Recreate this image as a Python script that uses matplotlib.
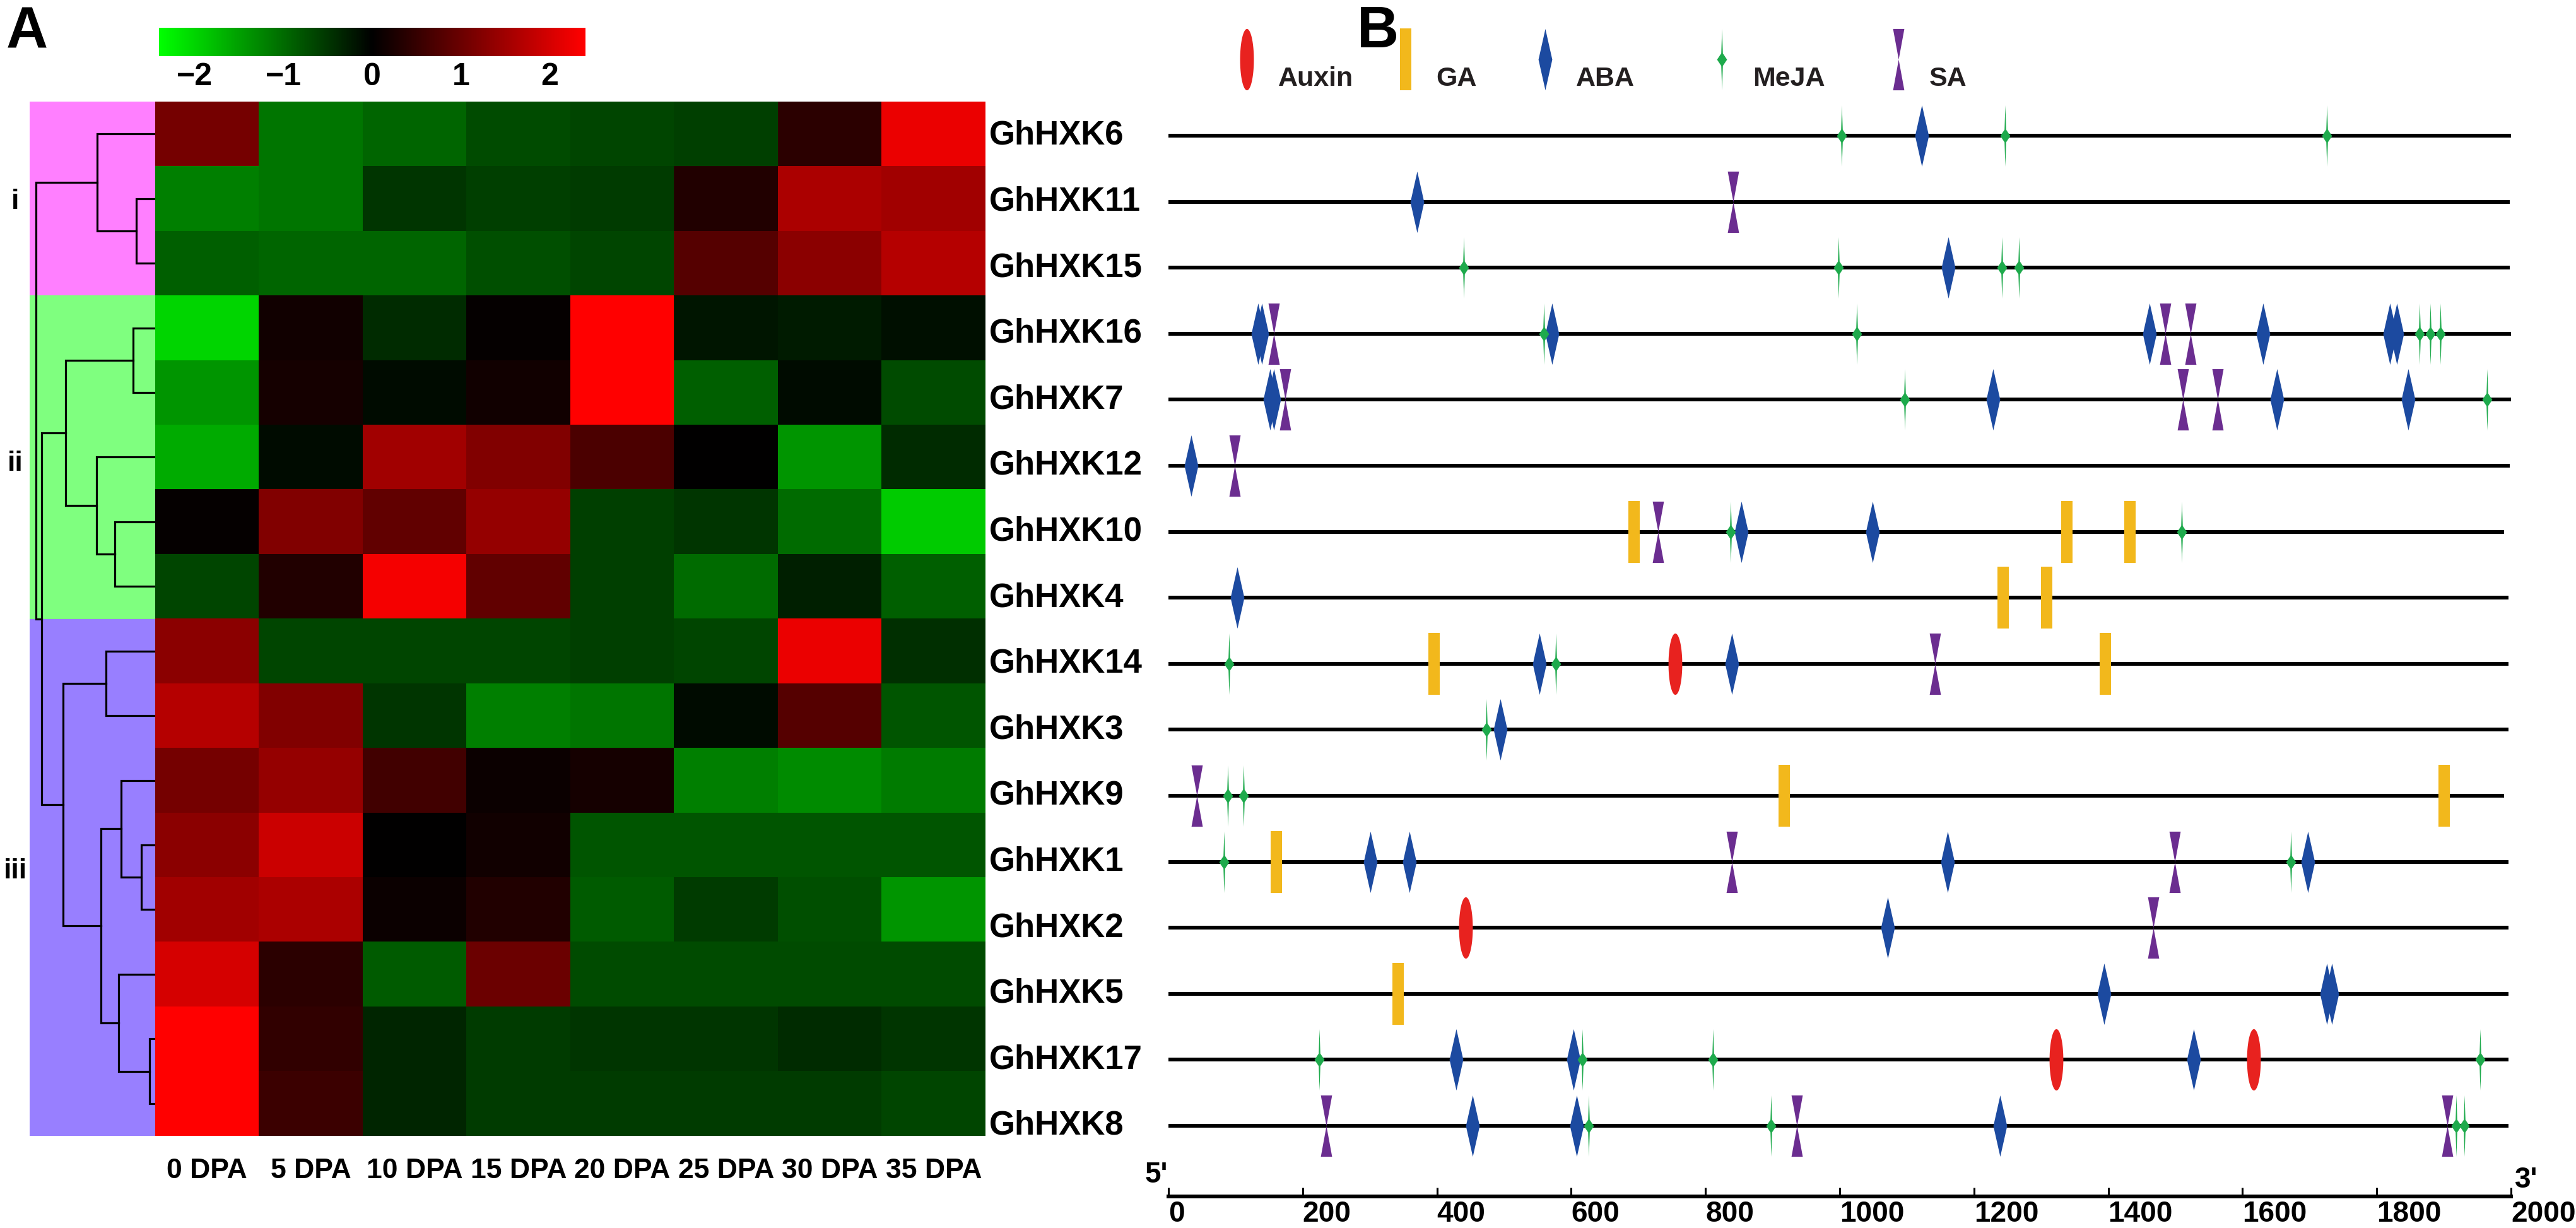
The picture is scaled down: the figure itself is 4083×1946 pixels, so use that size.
import numpy as np
import matplotlib
matplotlib.use('Agg')
import matplotlib.pyplot as plt
import matplotlib.transforms as mtransforms
from matplotlib.colors import LinearSegmentedColormap
from matplotlib.path import Path

# ---- data -------------------------------------------------------------
genes = ['GhHXK6', 'GhHXK11', 'GhHXK15', 'GhHXK16', 'GhHXK7', 'GhHXK12',
         'GhHXK10', 'GhHXK4', 'GhHXK14', 'GhHXK3', 'GhHXK9', 'GhHXK1',
         'GhHXK2', 'GhHXK5', 'GhHXK17', 'GhHXK8']
days = ['0 DPA', '5 DPA', '10 DPA', '15 DPA', '20 DPA', '25 DPA', '30 DPA', '35 DPA']

# z-score of expression, one row per gene
expr = np.array([
    [1.1, -1.1, -0.95, -0.7, -0.65, -0.6, 0.4, 2.2],
    [-1.2, -1.1, -0.5, -0.6, -0.55, 0.3, 1.6, 1.5],
    [-0.9, -0.95, -0.95, -0.75, -0.65, 0.8, 1.3, 1.7],
    [-2.0, 0.15, -0.4, 0.05, 2.4, -0.2, -0.25, -0.15],
    [-1.4, 0.2, -0.1, 0.15, 2.4, -0.9, -0.1, -0.7],
    [-1.6, -0.1, 1.5, 1.2, 0.7, 0.0, -1.4, -0.4],
    [0.05, 1.2, 0.9, 1.4, -0.6, -0.5, -1.0, -1.9],
    [-0.65, 0.3, 2.3, 0.9, -0.6, -1.0, -0.3, -0.9],
    [1.3, -0.65, -0.65, -0.65, -0.6, -0.65, 2.2, -0.45],
    [1.7, 1.2, -0.5, -1.2, -1.1, -0.1, 0.8, -0.8],
    [1.1, 1.4, 0.6, 0.1, 0.2, -1.2, -1.3, -1.15],
    [1.3, 1.9, 0.0, 0.15, -0.8, -0.8, -0.8, -0.8],
    [1.5, 1.6, 0.1, 0.3, -0.85, -0.55, -0.75, -1.4],
    [2.0, 0.4, -0.85, 1.0, -0.7, -0.7, -0.7, -0.7],
    [2.4, 0.45, -0.35, -0.55, -0.5, -0.5, -0.4, -0.5],
    [2.4, 0.55, -0.35, -0.55, -0.55, -0.55, -0.55, -0.65],
])

cluster_names = ['i', 'ii', 'iii']
cluster_rows = [(0, 2), (3, 7), (8, 15)]

# dendrogram merges (node a, node b, height); leaves 0-15, new nodes from 16
merges = [(1, 2, 30), (0, 16, 92), (3, 4, 35), (6, 7, 64), (5, 19, 93),
          (18, 20, 143), (8, 9, 78), (11, 12, 22), (10, 23, 54), (14, 15, 9),
          (13, 25, 58), (24, 26, 86), (22, 27, 147), (21, 28, 181), (17, 29, 190)]

# promoter cis-element positions (bp), one list per gene, same order as genes
auxin_pos = [[], [], [], [], [], [], [], [], [755], [], [], [], [443], [], [1322, 1617], []]
ga_pos = [[], [], [], [], [], [], [694, 1338, 1432], [1243, 1308], [396, 1396], [],
          [917, 1900], [161], [], [342], [], []]
aba_pos = [[1122], [370], [1162], [133, 139, 571, 1461, 1631, 1820, 1830],
           [151, 157, 1228, 1651, 1847], [34], [853, 1049], [102], [553, 839], [494],
           [], [301, 359, 1161, 1697], [1071], [1394, 1726, 1733], [429, 603, 1527],
           [453, 608, 1239]]
meja_pos = [[1003, 1246, 1726], [], [440, 998, 1242, 1267], [559, 1025, 1864, 1880, 1895],
            [1097, 1964], [], [837, 1509], [], [90, 577], [474], [88, 112], [83, 1672],
            [], [], [225, 617, 811, 1954], [626, 898, 1918, 1930]]
sa_pos = [[], [841], [], [157, 1485, 1523], [174, 1511, 1563], [99], [729], [], [1142],
          [], [42], [839, 1499], [1467], [], [], [235, 936, 1905]]
gene_len = [2000, 1998, 1998, 2000, 2000, 1998, 1990, 1996, 1996, 1996, 1990, 1996,
            1996, 1996, 1996, 1996]

hormones = ['Auxin', 'GA', 'ABA', 'MeJA', 'SA']

# ---- figure -----------------------------------------------------------
plt.rcParams['font.family'] = ['Liberation Sans', 'DejaVu Sans']
plt.rcParams['font.weight'] = 'bold'

W, H = 4083, 1946
fig = plt.figure(figsize=(W / 100, H / 100), dpi=100)
# pixel coordinates, origin top-left
px = mtransforms.Affine2D().scale(1.0 / W, -1.0 / H).translate(0, 1) + fig.transFigure


def add_ax(x0, y0, x1, y1):
    return fig.add_axes([x0 / W, 1 - y1 / H, (x1 - x0) / W, (y1 - y0) / H])


# heatmap
cmap = LinearSegmentedColormap.from_list('gkr', ['#00ff00', '#000000', '#ff0000'])
ax_hm = add_ax(246, 161, 1562, 1800)
im = ax_hm.imshow(expr, cmap=cmap, vmin=-2.4, vmax=2.4, aspect='auto',
                  interpolation='nearest')
ax_hm.set_xticks(range(len(days)))
ax_hm.set_xticklabels(days)
ax_hm.set_yticks([])
ax_hm.tick_params(axis='x', length=0, labelsize=32, pad=25)
for s in ax_hm.spines.values():
    s.set_visible(False)

# dendrogram
ax_d = add_ax(47, 161, 246, 1800)
nodes = {i: (0.0, float(i)) for i in range(len(genes))}
for k, (a, b, h) in enumerate(merges):
    ha_, ya = nodes[a]
    hb_, yb = nodes[b]
    ax_d.plot([ha_, h, h, hb_], [ya, ya, yb, yb], color='k', lw=2.3,
              solid_joinstyle='miter')
    nodes[len(genes) + k] = (h, (ya + yb) / 2)
span_cols = ['#ff00ff', '#00ff00', '#3300ff']
for (r0, r1), c in zip(cluster_rows, span_cols):
    ax_d.axhspan(r0 - 0.5, r1 + 0.5, color=c, alpha=0.5, lw=0)
ax_d.set_xlim(200, 0)
ax_d.set_ylim(len(genes) - 0.5, -0.5)
ax_d.axis('off')

lab_tr = mtransforms.blended_transform_factory(px, ax_d.transData)
for name, ypos in zip(cluster_names, [1.05, 5.1, 11.4]):
    ax_d.text(24, ypos, name, transform=lab_tr, ha='center', va='center', fontsize=32)

# colour bar
cax = add_ax(252, 44, 928, 89)
cb = fig.colorbar(im, cax=cax, orientation='horizontal', ticks=[-2, -1, 0, 1, 2])
cb.outline.set_visible(False)
cax.tick_params(length=0, labelsize=36, pad=7)

# promoter panel
def row_of(y):
    return (y - 215) / 104.6


ax_b = add_ax(1852, 20, 3980, 1896)
ax_b.set_xlim(0, 2000)
ax_b.set_ylim(row_of(1896), row_of(20))
rows = np.arange(len(genes))
ax_b.hlines(rows, 0, gene_len, color='k', lw=4.3, zorder=1)

t = np.linspace(0, 2 * np.pi, 80)
shapes = {
    'Auxin': Path(np.column_stack([11 * np.cos(t), 49 * np.sin(t)])),
    'GA': Path([(-9, 49), (9, 49), (9, -49), (-9, -49), (-9, 49)], closed=True),
    'ABA': Path([(0, 49), (11, 0), (0, -49), (-11, 0), (0, 49)], closed=True),
    'MeJA': Path([(0, 49), (1.3, 10), (8, 0), (1.3, -10), (0, -49), (-1.3, -10),
                  (-8, 0), (-1.3, 10), (0, 49)], closed=True),
    'SA': Path([(-9, 49), (9, 49), (0, 0), (9, -49), (-9, -49), (0, 0), (-9, 49)],
               closed=True),
}
colors = {'Auxin': '#e8221f', 'GA': '#f2b81c', 'ABA': '#1c4aa0',
          'MeJA': '#1eaa4c', 'SA': '#6b2d90'}
positions = {'Auxin': auxin_pos, 'GA': ga_pos, 'ABA': aba_pos,
             'MeJA': meja_pos, 'SA': sa_pos}

for hname in hormones:
    xs, ys = [], []
    for r, plist in enumerate(positions[hname]):
        xs += plist
        ys += [r] * len(plist)
    ax_b.plot(xs, ys, ls='none', marker=shapes[hname], ms=70,
              mfc=colors[hname], mec='none', mew=0, zorder=3)

# legend row
leg_x = [117, 353, 561, 824, 1087]
for hname, lx in zip(hormones, leg_x):
    ax_b.plot([lx], [row_of(94)], ls='none', marker=shapes[hname], ms=70,
              mfc=colors[hname], mec='none', mew=0)
    ax_b.text(lx + 46, row_of(136), hname, ha='left', va='baseline', fontsize=31,
              color='#231f20')

ax_b.set_yticks([])
ax_b.set_xticks(range(0, 2001, 200))
ax_b.tick_params(axis='x', direction='in', length=10, width=2.2, labelsize=33, pad=4)
for lab in ax_b.get_xticklabels():
    lab.set_horizontalalignment('left')
for side in ['top', 'left', 'right']:
    ax_b.spines[side].set_visible(False)
ax_b.spines['bottom'].set_linewidth(4.3)

gene_tr = mtransforms.blended_transform_factory(px, ax_b.transData)
for r, g in enumerate(genes):
    ax_b.text(1568, r, g, transform=gene_tr, ha='left', va='center', fontsize=38)

fig.text(1851, 1884, "5'", transform=px, ha='right', va='bottom', fontsize=33)
fig.text(3986, 1892, "3'", transform=px, ha='left', va='bottom', fontsize=33)

fig.text(10, 8, 'A', transform=px, ha='left', va='top', fontsize=66)
fig.text(2151, 8, 'B', transform=px, ha='left', va='top', fontsize=66)

fig.savefig('out.png', dpi=100)
